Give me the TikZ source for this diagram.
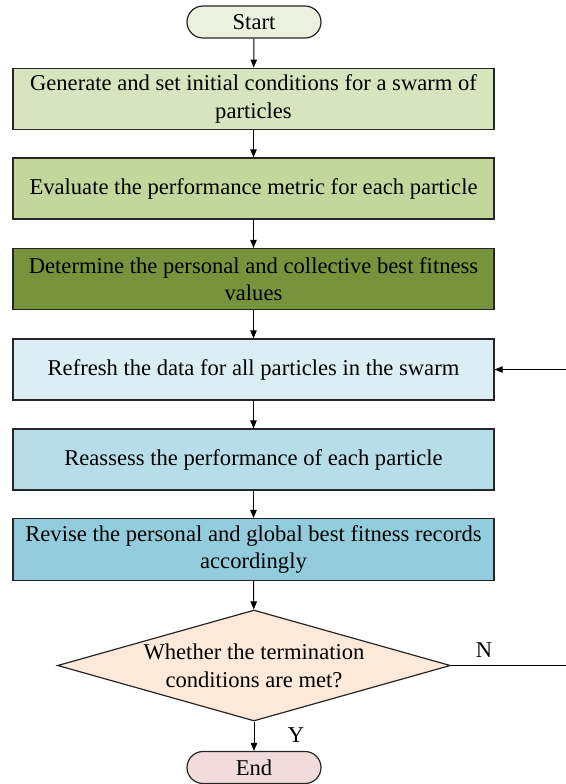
\documentclass[tikz,border=0pt]{standalone}
\usepackage{fontspec}
\setmainfont{Liberation Serif}
\usepackage{xcolor}
\usetikzlibrary{shapes,arrows.meta,positioning,calc}

\definecolor{startfill}{HTML}{EBF1DE}
\definecolor{endfill}{HTML}{F2DCDB}
\definecolor{initfill}{HTML}{D7E4BD}
\definecolor{evalfill}{HTML}{C3D69B}
\definecolor{bestfill}{HTML}{77933C}
\definecolor{refreshfill}{HTML}{DBEEF4}
\definecolor{reassessfill}{HTML}{B7DEE8}
\definecolor{revisefill}{HTML}{93CDDD}
\definecolor{judgefill}{HTML}{FDE9D9}

\begin{document}
\begin{tikzpicture}[x=0.5pt,y=-0.5pt,
    font=\fontsize{11.3}{13.85}\selectfont,
    terminal/.style={rectangle,rounded corners=8pt,draw=black!85,line width=0.6pt,minimum width=67pt,minimum height=16pt,inner sep=0pt},
    procbox/.style={rectangle,draw=black!85,line width=0.6pt,minimum width=240.5pt,minimum height=30.5pt,inner xsep=1pt,align=center},
    decision/.style={diamond,draw=black!85,line width=0.6pt,fill=judgefill,minimum width=196.5pt,minimum height=55.5pt,inner sep=0pt},
    flow/.style={-{Triangle[length=4pt,width=3.2pt]},line width=0.5pt}]
    \useasboundingbox (0,0) rectangle (566,784);

    % Start and the six steps
    \node[terminal,fill=startfill] (start) at (254, 22) {Start};
    \node[procbox,fill=initfill] (init) at (253.5, 99) {Generate and set initial conditions for a swarm of\\particles};
    \node[procbox,fill=evalfill] (eval) at (253.5, 188.5) {Evaluate the performance metric for each particle};
    \node[procbox,fill=bestfill] (best) at (253.5, 279) {Determine the personal and collective best fitness\\values};
    \node[procbox,fill=refreshfill] (refresh) at (253.5, 369.5) {Refresh the data for all particles in the swarm};
    \node[procbox,fill=reassessfill] (reassess) at (253.5, 459.5) {Reassess the performance of each particle};
    \node[procbox,fill=revisefill] (revise) at (253.5, 549.5) {Revise the personal and global best fitness records\\accordingly};

    % Termination check and End
    \node[decision] (judge) at (254, 665.5) {};
    \node[align=center] (judgetext) at (254, 665.5) {Whether the termination\\conditions are met?};
    \node[terminal,fill=endfill] (end) at (254, 767.5) {End};

    \foreach \a/\b in {start/init, init/eval, eval/best, best/refresh, refresh/reassess, reassess/revise, revise/judge, judge/end} {
        \draw[flow] (\a) -- (\b);
    }

    % Loop back
    \coordinate (nout) at (566, 665.5);
    \coordinate (nin) at (566, 369.5);
    \draw[line width=0.5pt] (judge.east) -- (nout);
    \draw[flow] (nin) -- (refresh.east);
    \node (nlabel) at (484, 650) {N};
    \node (ylabel) at (296, 735) {Y};
\end{tikzpicture}
\end{document}
